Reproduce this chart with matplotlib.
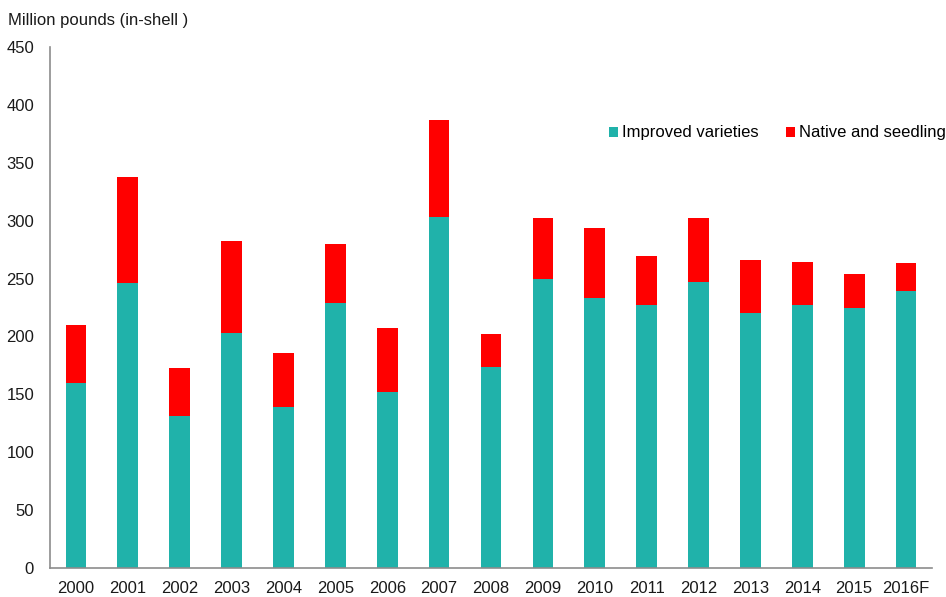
import matplotlib
matplotlib.use("Agg")
import matplotlib.pyplot as plt
import numpy as np

# pecan production, million pounds in-shell
years = ["2000", "2001", "2002", "2003", "2004", "2005", "2006", "2007", "2008",
         "2009", "2010", "2011", "2012", "2013", "2014", "2015", "2016F"]
improved = [160, 246, 131, 203, 139, 229, 152, 303, 174, 250, 233, 227, 247, 220, 227, 225, 239]
native = [50, 92, 42, 79, 47, 51, 55, 84, 28, 52, 61, 42, 55, 46, 37, 29, 24]

COLOR_IMPROVED = "#20B2AA"
COLOR_NATIVE = "#FF0000"
AXIS_GRAY = "#8C8C8C"
FS = 12

plt.rcParams["font.family"] = ["Liberation Sans", "DejaVu Sans"]

fig = plt.figure(figsize=(9.46, 5.97), dpi=100)
ax = fig.add_axes([50 / 946, 1 - 568.3 / 597, 882 / 946, (568.3 - 46.7) / 597])

x = np.arange(len(years))
b1 = ax.bar(x, improved, width=0.4, color=COLOR_IMPROVED, label="Improved varieties")
b2 = ax.bar(x, native, width=0.4, bottom=improved, color=COLOR_NATIVE, label="Native and seedling")

ax.set_xlim(-0.5, 16.5)
ax.set_ylim(0, 450)
ax.set_yticks(range(0, 451, 50))
ax.set_xticks(x)
ax.set_xticklabels(years)

for s in ["top", "right"]:
    ax.spines[s].set_visible(False)
for s in ["left", "bottom"]:
    ax.spines[s].set_color(AXIS_GRAY)
    ax.spines[s].set_linewidth(1.2)

ax.tick_params(axis="both", length=0, labelsize=FS, colors="#1a1a1a")
ax.tick_params(axis="y", pad=11.5)
ax.tick_params(axis="x", pad=9.5)

fig.text(8 / 946, 1 - 20 / 597, "Million pounds (in-shell )", fontsize=FS,
         color="#1a1a1a", va="center", ha="left")

fig.legend(handles=[b1, b2], loc="center left", bbox_to_anchor=(609 / 946, 1 - 133 / 597),
           ncol=2, frameon=False, fontsize=FS, handlelength=0.55, handleheight=0.55,
           handletextpad=0.25, columnspacing=1.6, borderaxespad=0, borderpad=0)

plt.savefig("out.png", dpi=100)
